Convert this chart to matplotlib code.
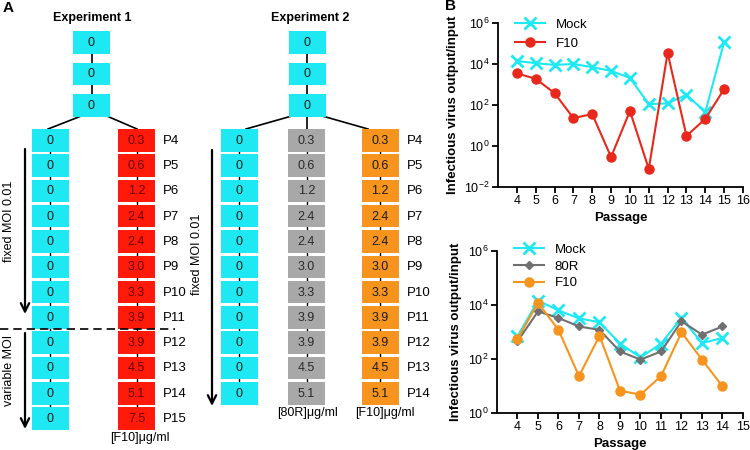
import matplotlib
matplotlib.use('Agg')
import matplotlib.pyplot as plt
from matplotlib.patches import Rectangle
from matplotlib.ticker import NullLocator

plt.rcParams['font.family'] = ['Liberation Sans', 'DejaVu Sans']
plt.rcParams['mathtext.fontset'] = 'custom'
plt.rcParams['mathtext.rm'] = 'Liberation Sans'

CYAN = '#1ee8f2'
RED = '#ff1a0a'
GREY = '#a8a8a8'
ORANGE = '#f7941d'

# panel A: drug concentration per passage
seed_values = ['0', '0', '0']
exp1_passages = ['P4', 'P5', 'P6', 'P7', 'P8', 'P9', 'P10', 'P11', 'P12', 'P13', 'P14', 'P15']
exp1_mock = ['0'] * 12
exp1_f10 = ['0.3', '0.6', '1.2', '2.4', '2.4', '3.0', '3.3', '3.9', '3.9', '4.5', '5.1', '7.5']
exp2_passages = ['P4', 'P5', 'P6', 'P7', 'P8', 'P9', 'P10', 'P11', 'P12', 'P13', 'P14']
exp2_mock = ['0'] * 11
exp2_80r = ['0.3', '0.6', '1.2', '2.4', '2.4', '3.0', '3.3', '3.9', '3.9', '4.5', '5.1']
exp2_f10 = ['0.3', '0.6', '1.2', '2.4', '2.4', '3.0', '3.3', '3.9', '3.9', '4.5', '5.1']

# panel B: infectious virus output/input
b1_passage = [4, 5, 6, 7, 8, 9, 10, 11, 12, 13, 14, 15]
b1_mock = [1.4e4, 1.1e4, 9e3, 1e4, 7e3, 4.6e3, 2.1e3, 110, 120, 310, 46, 1.2e5]
b1_f10 = [3.5e3, 1.9e3, 380, 23, 36, 0.29, 51, 0.076, 3.5e4, 3.1, 21, 600]
b2_passage = [4, 5, 6, 7, 8, 9, 10, 11, 12, 13, 14]
b2_mock = [690, 1.45e4, 6.3e3, 3.2e3, 2.3e3, 370, 115, 370, 3.3e3, 390, 600]
b2_80r = [450, 5.8e3, 3.3e3, 1.6e3, 1.2e3, 190, 95, 190, 2.5e3, 800, 1.6e3]
b2_f10 = [550, 1.2e4, 1.2e3, 23, 730, 6.7, 4.8, 23, 970, 95, 9.7]

BOX_W = 37
BOX_H = 22.5
ROW0 = 129
ROW_STEP = 25.3
TOP0 = 31
TOP_STEP = 31.5


def box(ax, xc, ytop, text, face, tcolor='#1a1a1a'):
    ax.add_patch(Rectangle((xc - BOX_W / 2, ytop), BOX_W, BOX_H, facecolor=face,
                           edgecolor='none', zorder=2))
    ax.text(xc, ytop + BOX_H / 2 + 0.5, text, ha='center', va='center',
            fontsize=9, color=tcolor, zorder=3)


def column(ax, xc, values, face, tcolor='#1a1a1a'):
    n = len(values)
    ax.plot([xc, xc], [ROW0 + BOX_H / 2, ROW0 + (n - 1) * ROW_STEP + BOX_H / 2],
            color='black', lw=1, zorder=1)
    for i, v in enumerate(values):
        box(ax, xc, ROW0 + i * ROW_STEP, v, face, tcolor)


def seed(ax, xc):
    ax.plot([xc, xc], [TOP0 + BOX_H / 2, TOP0 + 2 * TOP_STEP + BOX_H / 2],
            color='black', lw=1.2, zorder=1)
    for i, v in enumerate(seed_values):
        box(ax, xc, TOP0 + i * TOP_STEP, v, CYAN)


def passage_labels(ax, x, labels):
    for i, p in enumerate(labels):
        ax.text(x, ROW0 + i * ROW_STEP + BOX_H / 2 + 0.5, p, ha='left', va='center',
                fontsize=9.5)


def down_arrow(ax, x, y0, y1):
    ax.annotate('', xy=(x, y1), xytext=(x, y0),
                arrowprops=dict(arrowstyle='->, head_width=0.3, head_length=0.6',
                                lw=1.6, color='black', shrinkA=0, shrinkB=0))


fig = plt.figure(figsize=(7.5, 4.5), dpi=100)
axA = fig.add_axes([0, 0, 1, 1])
axA.set_xlim(0, 750)
axA.set_ylim(450, 0)
axA.axis('off')

seed_bottom = TOP0 + 2 * TOP_STEP + BOX_H

# experiment 1
axA.text(92, 18, 'Experiment 1', ha='center', va='center', fontsize=9, fontweight='bold')
seed(axA, 91.5)
axA.plot([80, 48], [seed_bottom, ROW0], color='black', lw=1.2, zorder=1)
axA.plot([108, 137], [seed_bottom, ROW0], color='black', lw=1.2, zorder=1)
column(axA, 50, exp1_mock, CYAN)
column(axA, 136.5, exp1_f10, RED, '#6a0000')
passage_labels(axA, 163, exp1_passages)
axA.plot([0, 175], [329, 329], color='black', lw=1.2, ls=(0, (5, 3)))
down_arrow(axA, 25, 149, 314)
down_arrow(axA, 25, 333, 429)
axA.text(9, 221, 'fixed MOI 0.01', rotation=90, ha='center', va='center', fontsize=9)
axA.text(9, 370, 'variable MOI', rotation=90, ha='center', va='center', fontsize=9)
axA.text(140, 438, '[F10]\u03bcg/ml', ha='center', va='center', fontsize=9)

# experiment 2
axA.text(310, 18, 'Experiment 2', ha='center', va='center', fontsize=9, fontweight='bold')
seed(axA, 307)
axA.plot([290, 246], [seed_bottom, ROW0], color='black', lw=1.2, zorder=1)
axA.plot([307, 307], [seed_bottom, ROW0], color='black', lw=1.2, zorder=1)
axA.plot([324, 368], [seed_bottom, ROW0], color='black', lw=1.2, zorder=1)
column(axA, 239, exp2_mock, CYAN)
column(axA, 306.5, exp2_80r, GREY, '#2a2a2a')
column(axA, 380, exp2_f10, ORANGE)
passage_labels(axA, 407, exp2_passages)
down_arrow(axA, 212, 150, 406)
axA.text(197, 254, 'fixed MOI 0.01', rotation=90, ha='center', va='center', fontsize=9)
axA.text(308, 413, '[80R]\u03bcg/ml', ha='center', va='center', fontsize=9)
axA.text(385, 413, '[F10]\u03bcg/ml', ha='center', va='center', fontsize=9)

axA.text(3, 8, 'A', ha='left', va='center', fontsize=11, fontweight='bold')
axA.text(445, 6, 'B', ha='left', va='center', fontsize=11, fontweight='bold')


def style_b(ax, xmax, ymin):
    ax.set_yscale('log')
    ax.set_ylim(ymin, 1e6)
    ax.set_xlim(3, xmax)
    ax.set_xticks(range(4, xmax + 1))
    ticks = [10.0 ** e for e in range(6, -3, -2) if 10.0 ** e >= ymin]
    ax.set_yticks(ticks)
    ax.yaxis.set_minor_locator(NullLocator())
    for s in ['top', 'right']:
        ax.spines[s].set_visible(False)
    for s in ['left', 'bottom']:
        ax.spines[s].set_linewidth(1.3)
    ax.tick_params(direction='out', length=4, width=1.3, labelsize=9, pad=2)
    ax.set_facecolor('none')
    ax.set_xlabel('Passage', fontsize=9.5, fontweight='bold', labelpad=3)
    ax.set_ylabel('Infectious virus output/input', fontsize=9.5, fontweight='bold', labelpad=4)


ax1 = fig.add_axes([498 / 750, 1 - 187 / 450, 245 / 750, 164 / 450])
ax1.plot(b1_passage, b1_mock, color=CYAN, marker='x', ms=8, mew=2, lw=1.5, label='Mock')
ax1.plot(b1_passage, b1_f10, color='#e8281c', marker='o', ms=6.5, lw=1.5, label='F10')
style_b(ax1, 16, 1e-2)
ax1.legend(loc='upper left', bbox_to_anchor=(0.02, 1.1), frameon=False, fontsize=9.5,
           handlelength=2.3, labelspacing=0.5)

ax2 = fig.add_axes([497 / 750, 1 - 413 / 450, 246 / 750, 162 / 450])
ax2.plot(b2_passage, b2_mock, color=CYAN, marker='x', ms=8, mew=2, lw=1.5, label='Mock')
ax2.plot(b2_passage, b2_80r, color='#707070', marker='D', ms=4, lw=1.5, label='80R')
ax2.plot(b2_passage, b2_f10, color=ORANGE, marker='o', ms=6.5, lw=1.5, label='F10')
style_b(ax2, 15, 1e0)
ax2.legend(loc='upper left', bbox_to_anchor=(0.02, 1.12), frameon=False, fontsize=9.5,
           handlelength=2.3, labelspacing=0.35)

fig.savefig('out.png', dpi=100)
